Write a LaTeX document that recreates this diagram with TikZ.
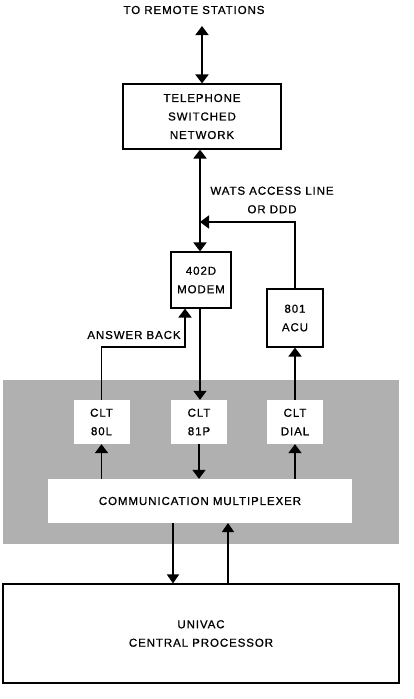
\documentclass[tikz,border=0pt]{standalone}
\usepackage{fontspec}
\setmainfont{Liberation Sans}[LetterSpace=8,FakeBold=0.8]
\usetikzlibrary{arrows.meta,positioning}
\tikzset{
  blk/.style={draw,line width=1.1pt,fill=white,align=center,inner sep=0pt},
  cltblk/.style={fill=white,align=center,inner sep=0pt,minimum width=56pt,minimum height=44pt},
  lbl/.style={align=center,inner sep=0pt},
  arr/.style={line width=1.8pt,-{Triangle[width=13pt,length=9pt]}},
  dblarr/.style={line width=1.8pt,{Triangle[width=13pt,length=9pt]}-{Triangle[width=13pt,length=9pt]}},
  thinarr/.style={line width=1.4pt,-{Triangle[width=12pt,length=9pt]}}
}
\begin{document}
\begin{tikzpicture}[x=1pt,y=-1pt,font=\fontsize{11.5}{18.5}\selectfont]
  \useasboundingbox (0,0) rectangle (414,699);
  % shaded rack
  \fill[gray!62] (3,380) rectangle (399,544);
  \node[lbl] (remote) at (194,10) {TO REMOTE STATIONS};
  \coordinate (rtop) at (202,26);
  \node[blk,minimum width=158pt,minimum height=65pt] (tel) at (202,116.5) {TELEPHONE\\SWITCHED\\NETWORK};
  \node[blk,minimum width=60pt,minimum height=56pt] (modem) at (201,280) {402D\\MODEM};
  \node[blk,minimum width=56pt,minimum height=58pt] (acu) at (295,318) {801\\ACU};
  \node[lbl] (wats) at (272,200) {WATS ACCESS LINE\\OR DDD};
  \node[cltblk] (clt80) at (101.5,422) {CLT\\80L};
  \node[cltblk] (clt81) at (199,422) {CLT\\81P};
  \node[cltblk] (cltdial) at (295,422) {CLT\\DIAL};
  \node[fill=white,minimum width=304pt,minimum height=44pt,inner sep=0pt] (mux) at (200,501) {COMMUNICATION MULTIPLEXER};
  \node[blk,minimum width=396pt,minimum height=99pt] (cpu) at (201,633.5) {UNIVAC\\CENTRAL PROCESSOR};
  \node[lbl] (ablbl) at (134,335) {ANSWER BACK};
  \coordinate (watsjoin) at (200,222);
  \coordinate (abturn) at (185,347);
  \coordinate (muxout) at (173,523);
  \coordinate (muxin) at (228,523);
  % connectors
  \draw[dblarr] (tel.north) -- (rtop);
  \draw[dblarr] (modem.north -| watsjoin) -- (tel.south -| watsjoin);
  \draw[arr] (acu.north) |- (watsjoin);
  \draw[arr] (clt80.north) |- (abturn) -- (abturn |- modem.south);
  \draw[arr] (modem.south -| watsjoin) -- (clt81.north -| watsjoin);
  \draw[arr] (cltdial.north) -- (acu.south);
  \draw[arr] (mux.north -| clt80) -- (clt80.south);
  \draw[arr] (clt81.south) -- (mux.north -| clt81);
  \draw[arr] (mux.north -| cltdial) -- (cltdial.south);
  \draw[thinarr] (muxout) -- (muxout |- cpu.north);
  \draw[thinarr] (muxin |- cpu.north) -- (muxin);
\end{tikzpicture}
\end{document}
